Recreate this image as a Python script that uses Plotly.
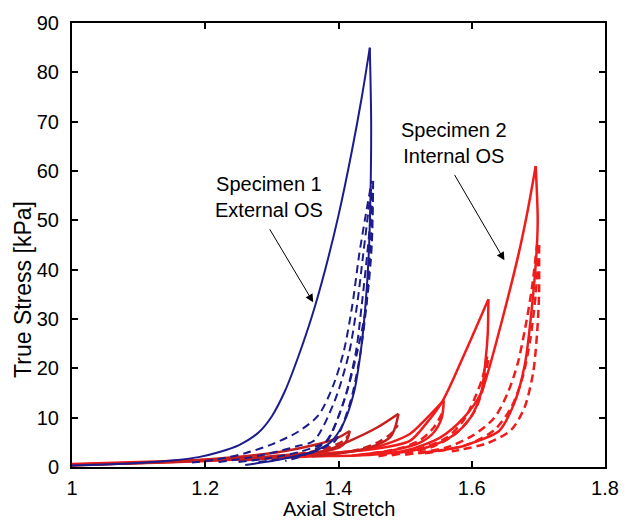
import plotly.graph_objects as go

# ---------------- Specimen 1 (blue) ----------------
b_load_x = [1.00, 1.05, 1.10, 1.15, 1.19, 1.22, 1.25, 1.28, 1.30, 1.32, 1.34, 1.36, 1.38, 1.40, 1.42, 1.435, 1.447]
b_load_y = [0.3, 0.5, 0.8, 1.3, 2.0, 3.0, 4.4, 7.0, 10.3, 15.5, 22.5, 30.5, 40.0, 51.0, 64.0, 75.0, 85.0]
b_unload_x = [1.447, 1.449, 1.448, 1.445, 1.440, 1.433, 1.423, 1.408, 1.388, 1.36, 1.33, 1.30, 1.26]
b_unload_y = [85.0, 70.0, 55.0, 42.0, 32.0, 23.0, 15.0, 9.0, 5.0, 3.0, 2.0, 1.2, 0.4]

b_d1_x = [1.18, 1.22, 1.26, 1.30, 1.34, 1.37, 1.392, 1.408, 1.421, 1.431, 1.442, 1.450]
b_d1_y = [0.9, 1.6, 2.8, 4.6, 7.2, 10.5, 16.5, 23.5, 33.0, 43.0, 52.0, 58.0]
b_d2_x = [1.22, 1.27, 1.31, 1.34, 1.363, 1.394, 1.416, 1.428, 1.437, 1.445, 1.450]
b_d2_y = [1.0, 2.0, 3.2, 4.3, 5.3, 13.3, 23.2, 33.0, 43.0, 52.0, 57.5]
b_d3_x = [1.25, 1.30, 1.34, 1.367, 1.383, 1.408, 1.426, 1.435, 1.443, 1.449, 1.451]
b_d3_y = [1.0, 1.9, 3.0, 4.2, 5.3, 13.3, 23.2, 33.0, 43.0, 52.0, 57.0]
b_d4_x = [1.28, 1.33, 1.362, 1.382, 1.395, 1.418, 1.433, 1.442, 1.448, 1.452]
b_d4_y = [1.0, 2.0, 3.0, 4.2, 5.3, 13.3, 23.2, 33.0, 45.0, 56.0]
b_d5_x = [1.452, 1.450, 1.442, 1.428, 1.408, 1.382, 1.35, 1.32]
b_d5_y = [58.0, 45.0, 33.0, 23.2, 13.3, 5.3, 2.5, 1.2]

# ---------------- Specimen 2 (red) ----------------
rA_load_x = [1.00, 1.10, 1.20, 1.309, 1.362, 1.397, 1.417]
rA_load_y = [0.3, 0.8, 1.5, 3.0, 4.4, 5.8, 7.3]
rA_unl_x = [1.417, 1.412, 1.402, 1.372, 1.32, 1.25]
rA_unl_y = [7.3, 5.3, 4.0, 3.0, 2.1, 1.3]
rA_dash_x = [1.30, 1.352, 1.387, 1.407, 1.415]
rA_dash_y = [2.0, 2.9, 4.0, 5.3, 6.4]

rB_load_x = [1.00, 1.15, 1.30, 1.38, 1.417, 1.458, 1.490]
rB_load_y = [0.4, 1.0, 2.2, 3.3, 5.3, 8.0, 10.8]
rB_unl_x = [1.490, 1.485, 1.478, 1.458, 1.422, 1.36]
rB_unl_y = [10.8, 8.0, 6.1, 4.5, 3.2, 2.2]
rB_dash_x = [1.38, 1.432, 1.462, 1.481, 1.489]
rB_dash_y = [2.4, 3.6, 5.2, 7.0, 8.5]

rC_load_x = [1.00, 1.20, 1.35, 1.45, 1.507, 1.531, 1.558]
rC_load_y = [0.5, 1.2, 2.4, 3.8, 6.7, 9.7, 13.5]
rC_unl_x = [1.558, 1.555, 1.543, 1.523, 1.482, 1.42]
rC_unl_y = [13.5, 10.0, 7.0, 5.0, 3.4, 2.3]
rC_dash_x = [1.43, 1.492, 1.523, 1.543, 1.556]
rC_dash_y = [2.4, 3.8, 5.5, 8.0, 11.0]

rD_load_x = [1.00, 1.20, 1.35, 1.45, 1.507, 1.531, 1.556, 1.590, 1.625]
rD_load_y = [0.5, 1.3, 2.5, 3.6, 5.3, 8.7, 13.3, 23.2, 34.0]
rD_unl_x = [1.625, 1.624, 1.621, 1.614, 1.598, 1.573, 1.533, 1.48]
rD_unl_y = [34.0, 27.0, 22.0, 15.0, 10.0, 6.5, 4.0, 2.7]
rD_dash1_x = [1.46, 1.523, 1.563, 1.588, 1.603, 1.616, 1.624]
rD_dash1_y = [2.2, 3.8, 6.0, 9.5, 13.5, 18.0, 23.0]
rD_dash2_x = [1.48, 1.543, 1.578, 1.603, 1.617, 1.625]
rD_dash2_y = [2.4, 4.2, 7.0, 11.0, 16.0, 22.0]

rE_load_x = [1.00, 1.20, 1.35, 1.45, 1.503, 1.553, 1.588, 1.614, 1.626, 1.646, 1.670, 1.684, 1.696]
rE_load_y = [0.6, 1.4, 2.1, 2.5, 3.4, 6.0, 10.0, 15.0, 20.0, 30.0, 43.0, 52.0, 61.0]
rE_unl_x = [1.696, 1.699, 1.697, 1.690, 1.680, 1.664, 1.641, 1.603, 1.580, 1.52]
rE_unl_y = [61.0, 50.0, 43.0, 32.0, 21.0, 13.0, 7.3, 5.0, 4.0, 2.8]
rE_dash1_x = [1.50, 1.563, 1.603, 1.634, 1.654, 1.669, 1.680, 1.690, 1.698]
rE_dash1_y = [2.5, 4.0, 6.5, 10.0, 15.0, 21.0, 28.0, 36.0, 45.0]
rE_dash2_x = [1.53, 1.593, 1.634, 1.659, 1.676, 1.688, 1.696, 1.701]
rE_dash2_y = [2.8, 4.5, 7.5, 12.0, 18.0, 26.0, 35.0, 45.0]
rE_dash3_x = [1.701, 1.701, 1.698, 1.692, 1.679, 1.659, 1.623, 1.57]
rE_dash3_y = [45.0, 35.0, 27.0, 19.0, 12.0, 7.5, 4.8, 3.2]

x_ticks = [1, 1.2, 1.4, 1.6, 1.8]
x_tick_text = ["1", "1.2", "1.4", "1.6", "1.8"]
y_ticks = [0, 10, 20, 30, 40, 50, 60, 70, 80, 90]

BLUE = "rgb(28,28,140)"
RED = "rgb(240,28,28)"
DRED = "rgb(200,30,30)"

fig = go.Figure()

def add(x, y, color, dash="solid", width=2):
    fig.add_trace(go.Scatter(x=x, y=y, mode="lines",
                             line=dict(color=color, width=width, dash=dash, shape="spline", smoothing=0.8),
                             showlegend=False, hoverinfo="skip"))

DASH = "8px,5px"

# red first (underneath), then blue
for xs, ys, c, d in [
    (rE_dash1_x, rE_dash1_y, RED, DASH), (rE_dash2_x, rE_dash2_y, RED, DASH), (rE_dash3_x, rE_dash3_y, RED, DASH),
    (rD_dash1_x, rD_dash1_y, RED, DASH), (rD_dash2_x, rD_dash2_y, RED, DASH),
    (rC_dash_x, rC_dash_y, RED, DASH), (rB_dash_x, rB_dash_y, DRED, DASH), (rA_dash_x, rA_dash_y, DRED, DASH),
    (rE_load_x, rE_load_y, RED, "solid"), (rE_unl_x, rE_unl_y, RED, "solid"),
    (rD_load_x, rD_load_y, RED, "solid"), (rD_unl_x, rD_unl_y, RED, "solid"),
    (rC_load_x, rC_load_y, RED, "solid"), (rC_unl_x, rC_unl_y, RED, "solid"),
    (rB_load_x, rB_load_y, DRED, "solid"), (rB_unl_x, rB_unl_y, DRED, "solid"),
    (rA_load_x, rA_load_y, DRED, "solid"), (rA_unl_x, rA_unl_y, DRED, "solid"),
]:
    add(xs, ys, c, d, width=2.5)

for xs, ys, c, d in [
    (b_d1_x, b_d1_y, BLUE, DASH), (b_d2_x, b_d2_y, BLUE, DASH), (b_d3_x, b_d3_y, BLUE, DASH),
    (b_d4_x, b_d4_y, BLUE, DASH), (b_d5_x, b_d5_y, BLUE, DASH),
    (b_load_x, b_load_y, BLUE, "solid"), (b_unload_x, b_unload_y, BLUE, "solid"),
]:
    add(xs, ys, c, d, width=2)

FONT = "Arial, Liberation Sans, Helvetica, sans-serif"

axis_common = dict(showline=True, linecolor="black", linewidth=2, mirror="ticks", ticks="inside",
                   ticklen=6, tickwidth=1.5, tickcolor="black", showgrid=False, zeroline=False,
                   tickfont=dict(family=FONT, size=20, color="black"))

fig.update_layout(
    width=631, height=523,
    margin=dict(l=72, r=20, t=12, b=56),
    paper_bgcolor="white", plot_bgcolor="white",
    xaxis=dict(range=[1, 1.8], tickvals=x_ticks, ticktext=x_tick_text, ticklabelstandoff=2, **axis_common),
    yaxis=dict(range=[0, 90], tickvals=y_ticks, ticklabelstandoff=7, **axis_common),
    font=dict(family=FONT, color="black"),
    annotations=[
        dict(text="Axial Stretch", xref="paper", yref="paper", x=0.5, y=-0.0945, showarrow=False,
             font=dict(size=20, family=FONT), xanchor="center", yanchor="middle"),
        dict(text="True Stress [kPa]", xref="paper", yref="paper", x=-0.091, y=0.40, showarrow=False,
             textangle=-90, font=dict(size=23, family=FONT), xanchor="center", yanchor="middle"),
        dict(text="Specimen 1<br>External OS", x=1.295, y=54.7, xref="x", yref="y", showarrow=False,
             font=dict(size=20, family=FONT), xanchor="center", yanchor="middle"),
        dict(text="Specimen 2<br>Internal OS", x=1.574, y=65.6, xref="x", yref="y", showarrow=False,
             font=dict(size=20, family=FONT), xanchor="center", yanchor="middle"),
        dict(text="", x=1.362, y=33.4, ax=1.2954, ay=48.5, xref="x", yref="y", axref="x", ayref="y",
             showarrow=True, arrowhead=2, arrowsize=1.6, arrowwidth=1, arrowcolor="black"),
        dict(text="", x=1.649, y=41.9, ax=1.573, ay=59.5, xref="x", yref="y", axref="x", ayref="y",
             showarrow=True, arrowhead=2, arrowsize=1.6, arrowwidth=1, arrowcolor="black"),
    ],
)

fig.write_html("out.html")
